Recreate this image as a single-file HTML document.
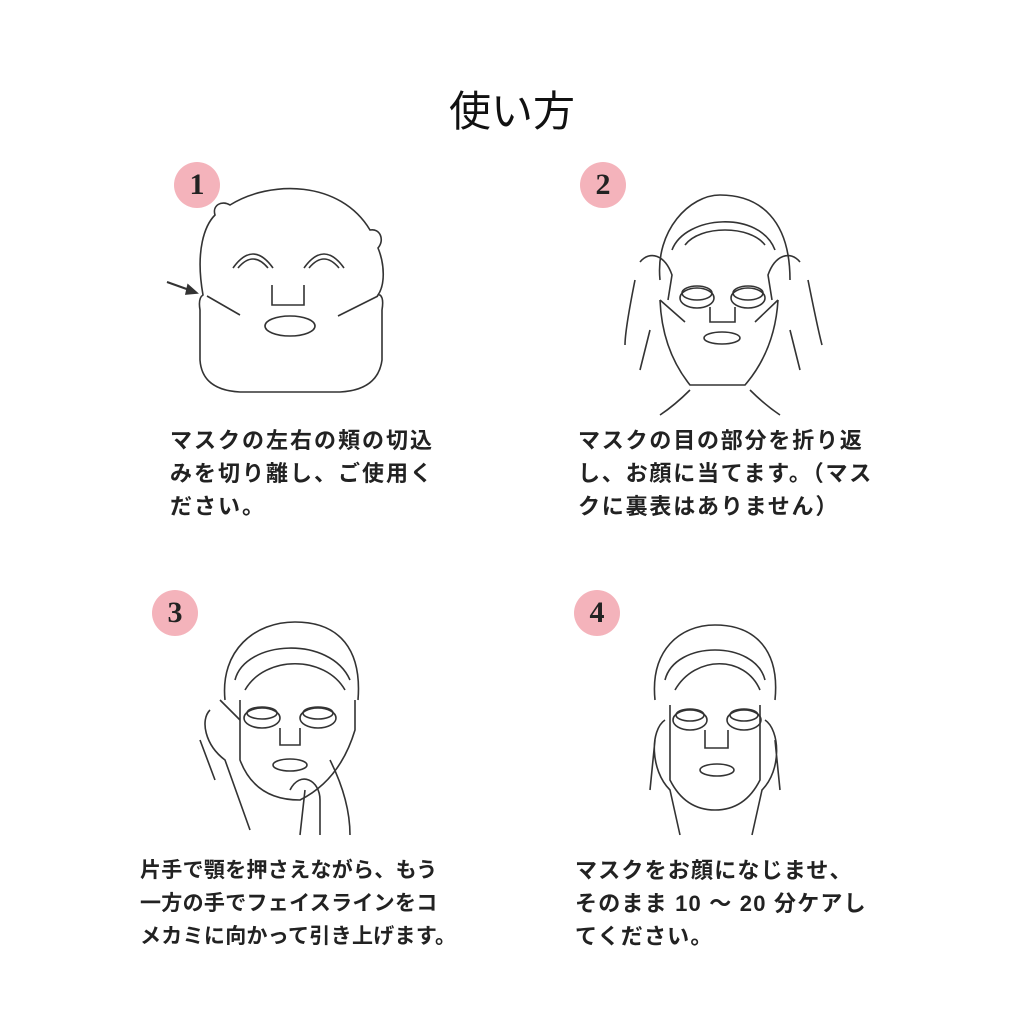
<!DOCTYPE html>
<html><head><meta charset="utf-8"><style>
body{margin:0;width:1024px;height:1024px;background:#fff;position:relative;overflow:hidden;font-family:"Liberation Sans","Noto Sans CJK JP",sans-serif;}
.t{position:absolute;font-size:22px;font-weight:bold;color:#222;line-height:33px;white-space:nowrap}
.n{position:absolute;width:46px;height:46px;border-radius:50%;background:#f4b3bb;color:#222;font-family:"Liberation Serif",serif;font-size:30px;text-align:center;line-height:46px;font-weight:bold}
h1{position:absolute;left:0;width:1024px;top:78px;margin:0;text-align:center;font-size:42px;font-weight:normal;color:#111}
svg{position:absolute;left:0;top:0}
</style></head><body>
<h1>使い方</h1>
<div class="n" style="left:174px;top:162px">1</div>
<div class="n" style="left:580px;top:162px">2</div>
<div class="n" style="left:152px;top:590px">3</div>
<div class="n" style="left:574px;top:590px">4</div>
<svg width="1024" height="1024" fill="none" stroke="#333" stroke-width="1.6">
<!-- face 1 -->
<path d="M203 295 C195 250 205 225 215 215 C212 205 222 200 230 205 C270 180 340 180 370 230 C380 228 385 240 378 248 C385 265 385 285 378 295 L380 295 Q384 298 382 310 L382 360 Q378 390 340 392 L240 392 Q202 390 200 360 L200 310 Q198 298 203 295Z"/>
<path d="M207 296 L240 315 M378 296 L338 316"/>
<path d="M233 268 Q253 240 273 268 M238 268 Q253 250 268 268"/>
<path d="M304 268 Q324 240 344 268 M309 268 Q324 250 339 268"/>
<path d="M272 285 L272 305 L304 305 L304 285"/>
<ellipse cx="290" cy="326" rx="25" ry="10"/>
<path d="M167 282 L195 292" stroke-width="2"/>
<path d="M197 293 L188 285 L186 294Z" fill="#333"/>
<!-- face 2 -->
<path d="M660 280 C655 230 690 195 720 195 C760 195 790 220 790 280"/>
<path d="M672 250 C685 215 760 210 775 250 M685 245 C700 225 750 225 765 245"/>
<path d="M660 300 Q662 350 690 385 L745 385 Q775 350 778 300"/>
<path d="M660 300 L685 322 M778 300 L755 322"/>
<path d="M640 262 C650 250 665 255 672 275 L668 300 M635 280 Q625 330 625 345 M650 330 L640 370"/>
<path d="M800 262 C790 250 775 255 768 275 L772 300 M808 280 Q818 330 822 345 M790 330 L800 370"/>
<ellipse cx="697" cy="298" rx="17" ry="10"/><ellipse cx="697" cy="293" rx="15" ry="7"/>
<ellipse cx="748" cy="298" rx="17" ry="10"/><ellipse cx="748" cy="293" rx="15" ry="7"/>
<path d="M710 307 L710 322 L735 322 L735 307"/>
<ellipse cx="722" cy="338" rx="18" ry="6"/>
<path d="M690 390 Q675 405 660 415 M750 390 Q765 405 780 415"/>
<!-- face 3 -->
<path d="M225 700 C220 650 255 622 295 622 C340 622 362 650 358 700"/>
<path d="M235 680 C245 640 330 635 350 680 M245 690 C265 655 325 655 345 690"/>
<path d="M240 700 L240 760 Q255 800 300 800 Q340 780 355 730 L355 700"/>
<ellipse cx="262" cy="718" rx="18" ry="10"/><ellipse cx="262" cy="713" rx="15" ry="6"/>
<ellipse cx="318" cy="718" rx="18" ry="10"/><ellipse cx="318" cy="713" rx="15" ry="6"/>
<path d="M280 728 L280 745 L300 745 L300 728"/><ellipse cx="290" cy="765" rx="17" ry="6"/>
<path d="M210 710 C200 720 205 745 225 760 L250 830 M200 740 L215 780 M220 700 L240 720"/>
<path d="M290 790 C300 770 320 780 320 800 L320 835 M305 790 L300 835 M330 760 Q350 800 350 835"/>
<!-- face 4 -->
<path d="M655 700 C650 650 680 625 715 625 C755 625 780 650 775 700"/>
<path d="M665 680 C675 640 755 640 765 680 M675 690 C695 655 745 655 760 690"/>
<path d="M670 705 L670 780 Q685 810 715 810 Q745 810 760 780 L760 705"/>
<ellipse cx="690" cy="720" rx="17" ry="10"/><ellipse cx="690" cy="715" rx="14" ry="6"/>
<ellipse cx="744" cy="720" rx="17" ry="10"/><ellipse cx="744" cy="715" rx="14" ry="6"/>
<path d="M705 730 L705 748 L728 748 L728 730"/><ellipse cx="717" cy="770" rx="17" ry="6"/>
<path d="M665 720 C650 730 650 770 670 790 L680 835 M655 740 L650 790 M765 720 C780 730 782 770 762 790 L752 835 M775 740 L780 790"/>
</svg>
<div class="t" style="left:170px;top:424px;letter-spacing:2px">マスクの左右の頬の切込<br>みを切り離し、ご使用く<br>ださい。</div>
<div class="t" style="left:578px;top:424px;letter-spacing:1.8px">マスクの目の部分を折り返<br>し、お顔に当てます。（マス<br>クに裏表はありません）</div>
<div class="t" style="left:140px;top:854px;font-size:21px;letter-spacing:0.3px">片手で顎を押さえながら、もう<br>一方の手でフェイスラインをコ<br>メカミに向かって引き上げます。</div>
<div class="t" style="left:575px;top:854px;letter-spacing:1.2px">マスクをお顔になじませ、<br>そのまま 10 ～ 20 分ケアし<br>てください。</div>
</body></html>
